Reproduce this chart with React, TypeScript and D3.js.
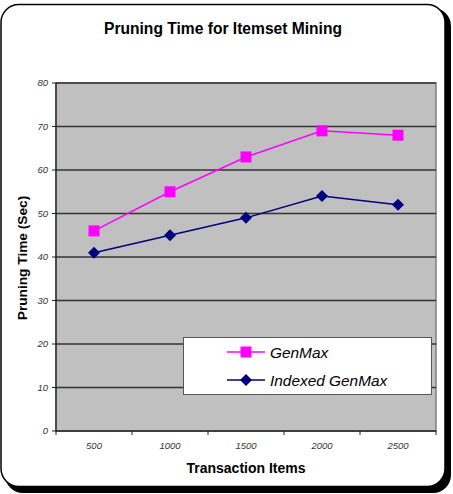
import React from "react";
import * as d3 from "d3";

const categories = ["500", "1000", "1500", "2000", "2500"];
const genMax = [46, 55, 63, 69, 68];
const indexedGenMax = [41, 45, 49, 54, 52];
const yTicks = [0, 10, 20, 30, 40, 50, 60, 70, 80];
const seriesNames = ["GenMax", "Indexed GenMax"];

const W = 453, H = 494;
const plot = { left: 56, right: 436, top: 83, bottom: 431 };
const font = "'Liberation Sans', Arial, sans-serif";

export default function App() {
  const x = d3.scaleBand<string>().domain(categories).range([plot.left, plot.right]);
  const y = d3.scaleLinear().domain([0, 80]).range([plot.bottom, plot.top]);
  const cx = (c: string) => (x(c) as number) + x.bandwidth() / 2;
  const line = d3.line<number>().x((_, i) => cx(categories[i])).y((d) => y(d));

  const square = (px: number, py: number, k: string) => (
    <rect key={k} x={px - 5.5} y={py - 5.5} width={11} height={11} fill="#ff00ff" />
  );
  const diamond = (px: number, py: number, k: string) => (
    <path key={k} d={`M${px},${py - 6}L${px + 6},${py}L${px},${py + 6}L${px - 6},${py}Z`} fill="#000080" />
  );

  const boundaries = [...categories.map((c) => x(c) as number), plot.right];

  return (
    <svg width={W} height={H} style={{ position: "absolute", left: 0, top: 0, fontFamily: font }}>
      <rect x={5} y={8} width={446} height={485} rx={18} fill="#000" />
      <rect x={1} y={4.5} width={444} height={482} rx={18} fill="#fff" stroke="#000" strokeWidth={1.5} />
      <text x={223} y={34} textAnchor="middle" fontSize={15.6} fontWeight="bold" fill="#000">
        Pruning Time for Itemset Mining
      </text>
      <rect x={plot.left} y={plot.top} width={plot.right - plot.left} height={plot.bottom - plot.top} fill="#c0c0c0" stroke="#808080" strokeWidth={1.5} />
      {yTicks.filter((t) => t > 0).map((t) => (
        <line key={t} x1={plot.left} x2={plot.right} y1={y(t)} y2={y(t)} stroke="#333" strokeWidth={1.3} />
      ))}
      <line x1={plot.left} x2={plot.left} y1={plot.top} y2={plot.bottom} stroke="#222" strokeWidth={1.3} />
      <line x1={plot.left} x2={plot.right} y1={plot.bottom} y2={plot.bottom} stroke="#222" strokeWidth={1.3} />
      {yTicks.map((t) => (
        <g key={t}>
          <line x1={plot.left - 4} x2={plot.left} y1={y(t)} y2={y(t)} stroke="#222" />
          <text x={plot.left - 8} y={y(t) + 3.3} textAnchor="end" fontSize={9.5} fontStyle="italic" fill="#333">{t}</text>
        </g>
      ))}
      {boundaries.map((b, i) => (
        <line key={i} x1={b} x2={b} y1={plot.bottom} y2={plot.bottom + 4} stroke="#222" />
      ))}
      {categories.map((c) => (
        <text key={c} x={cx(c)} y={449} textAnchor="middle" fontSize={9.5} fontStyle="italic" fill="#333">{c}</text>
      ))}
      <text x={246} y={473} textAnchor="middle" fontSize={14} fontWeight="bold" fill="#000">Transaction Items</text>
      <text transform={`translate(27,${258}) rotate(-90)`} textAnchor="middle" fontSize={13.7} fontWeight="bold" fill="#000">
        Pruning Time (Sec)
      </text>
      <path d={line(genMax) || ""} fill="none" stroke="#ff00ff" strokeWidth={1.5} />
      <path d={line(indexedGenMax) || ""} fill="none" stroke="#000080" strokeWidth={1.5} />
      {genMax.map((v, i) => square(cx(categories[i]), y(v), "g" + i))}
      {indexedGenMax.map((v, i) => diamond(cx(categories[i]), y(v), "i" + i))}
      <rect x={183.5} y={337.5} width={248} height={57} fill="#fff" stroke="#555" strokeWidth={1} />
      <line x1={227} x2={265} y1={352} y2={352} stroke="#ff00ff" strokeWidth={1.5} />
      {square(246, 352, "lg")}
      <text x={270} y={357.5} fontSize={15.4} fontStyle="italic" fill="#000">{seriesNames[0]}</text>
      <line x1={227} x2={265} y1={380} y2={380} stroke="#000080" strokeWidth={1.5} />
      {diamond(246, 380, "li")}
      <text x={270} y={385.5} fontSize={15.4} fontStyle="italic" fill="#000">{seriesNames[1]}</text>
    </svg>
  );
}
